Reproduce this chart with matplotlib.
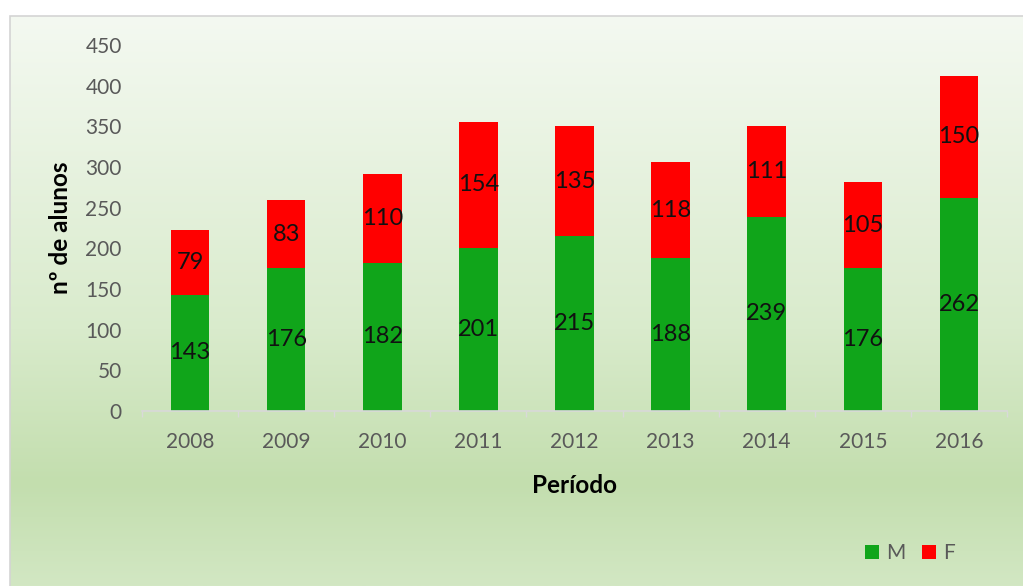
import matplotlib.pyplot as plt
import numpy as np
from matplotlib.colors import LinearSegmentedColormap
from matplotlib.patches import Rectangle

anos = ["2008", "2009", "2010", "2011", "2012", "2013", "2014", "2015", "2016"]
masculino = [143, 176, 182, 201, 215, 188, 239, 176, 262]
feminino = [79, 83, 110, 154, 135, 118, 111, 105, 150]

verde = "#10a51a"
vermelho = "#ff0000"
cinza = "#595959"

plt.rcParams["font.family"] = ["Lato", "DejaVu Sans"]

fig = plt.figure(figsize=(10.23, 5.86), dpi=100)

# fundo do grafico: gradiente vertical com moldura cinzenta
bg = fig.add_axes([10 / 1023, 0, 1 - 10 / 1023, 1 - 16 / 586], zorder=0)
cmap = LinearSegmentedColormap.from_list(
    "fundo", [(0, "#f4f9f1"), (0.55, "#d9ebcc"), (0.82, "#c3deae"), (1, "#d2e7c3")])
grad = np.linspace(0, 1, 256).reshape(-1, 1)
bg.imshow(grad, aspect="auto", cmap=cmap, extent=[0, 1, 0, 1], origin="upper")
bg.set_xlim(0, 1)
bg.set_ylim(0, 1)
bg.axis("off")
fig.add_artist(Rectangle((9.5 / 1023, -0.01), 1.1, 1 - 15.5 / 586 + 0.01,
                         transform=fig.transFigure, fill=False,
                         edgecolor="#d4d4d4", linewidth=1.2, zorder=1))

ax = fig.add_axes([142 / 1023, 1 - 411 / 586, 865 / 1023, 366 / 586], zorder=2)
ax.patch.set_alpha(0)

x = np.arange(len(anos))
b1 = ax.bar(x, masculino, width=0.4, color=verde, label="M")
b2 = ax.bar(x, feminino, width=0.4, bottom=masculino, color=vermelho, label="F")
ax.bar_label(b1, label_type="center", fontsize=17, color="#111111")
ax.bar_label(b2, label_type="center", fontsize=17, color="#111111")

ax.set_xlim(-0.5, len(anos) - 0.5)
ax.set_ylim(0, 450)
ax.set_yticks(range(0, 451, 50))
ax.set_xticks(x)
ax.set_xticklabels(anos)
ax.set_xticks(np.arange(-0.5, len(anos), 1), minor=True)
ax.tick_params(axis="x", which="major", length=0, pad=15, labelsize=15, labelcolor=cinza)
ax.tick_params(axis="x", which="minor", length=4, color="#d9d9d9", width=1)
ax.tick_params(axis="y", length=0, pad=14.5, labelsize=15, labelcolor=cinza)
for s in ["top", "right", "left"]:
    ax.spines[s].set_visible(False)
ax.spines["bottom"].set_color("#d9d9d9")
ax.spines["bottom"].set_linewidth(1.2)

ax.set_xlabel("Período", fontsize=17.5, fontweight="bold", labelpad=16)
ax.set_ylabel("nº de alunos", fontsize=17.5, fontweight="bold", labelpad=10)

leg = ax.legend(loc="center", bbox_to_anchor=(910 / 1023, 1 - 553 / 586),
                bbox_transform=fig.transFigure, ncol=2, frameon=False,
                fontsize=15, handlelength=0.65, handleheight=0.65,
                handletextpad=0.35, columnspacing=0.8)
for t in leg.get_texts():
    t.set_color(cinza)

fig.savefig("out.png", dpi=100)
